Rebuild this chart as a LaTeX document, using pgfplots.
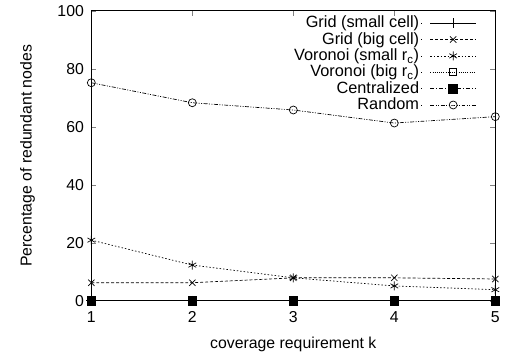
\documentclass[border=0pt]{standalone}
\usepackage{fontspec}
\setmainfont{Liberation Sans}
\usepackage{pgfplots}
\pgfplotsset{compat=1.18}
\begin{document}
\fontsize{16}{18}\selectfont
\begin{tikzpicture}
\begin{axis}[
  at={(0,0)}, anchor=south west,
  scale only axis, width=407bp, height=292bp,
  xmin=1, xmax=5, ymin=0, ymax=100,
  xtick={1,2,3,4,5}, ytick={0,20,40,60,80,100},
  tick align=inside, major tick length=5bp,
  /pgf/number format/assume math mode=true,
  tick label style={font=\fontsize{16}{18}\selectfont},
  label style={font=\fontsize{16}{18}\selectfont},
  xticklabel style={yshift=-5bp},
  yticklabel style={xshift=-2bp},
  xlabel={coverage requirement k},
  ylabel={Percentage of redundant nodes},
  xlabel style={yshift=-4bp},
  ylabel style={yshift=12bp},
  axis line style={line width=0.9pt},
  every axis plot/.append style={line width=0.7pt, black},
  legend style={at={(0.956,0.993)}, anchor=north east, draw=none, fill=none,
    font=\fontsize{16.5}{15}\selectfont, row sep=-1.8bp, inner sep=1bp},
  legend cell align=right, legend plot pos=right,
  legend image code/.code={\path (0bp,0bp) -- (1bp,0bp); \draw[mark repeat=2,mark phase=2] plot coordinates {(9bp,0bp) (32bp,0bp) (55bp,0bp)};},
  clip=false,
]
\addplot[mark=+, mark size=5bp, solid] coordinates {(1,0)(2,0)(3,0)(4,0)(5,0)};
\addlegendentry{Grid (small cell)}
\addplot[mark=x, mark size=4.5bp, dash pattern=on 3pt off 2pt, mark options={solid}] coordinates {(1,6.2)(2,6.2)(3,7.9)(4,7.9)(5,7.5)};
\addlegendentry{Grid (big cell)}
\addplot[mark=asterisk, mark size=4.5bp, dash pattern=on 1.5pt off 2pt, mark options={solid}] coordinates {(1,20.9)(2,12.3)(3,7.9)(4,5.1)(5,3.8)};
\addlegendentry{Voronoi (small r\textsubscript{c})}
\addplot[mark=square, mark size=3.5bp, dash pattern=on 1pt off 1.2pt, mark options={solid}] coordinates {(1,0)(2,0)(3,0)(4,0)(5,0)};
\addlegendentry{Voronoi (big r\textsubscript{c})}
\addplot[mark=square*, mark size=4.5bp, dash pattern=on 4pt off 2pt on 1pt off 2pt, mark options={solid}] coordinates {(1,0)(2,0)(3,0)(4,0)(5,0)};
\addlegendentry{Centralized}
\addplot[mark=o, mark size=4bp, dash pattern=on 4pt off 1.5pt on 1pt off 1.5pt on 1pt off 1.5pt, mark options={solid}] coordinates {(1,75.2)(2,68.3)(3,65.8)(4,61.3)(5,63.5)};
\addlegendentry{Random}
\end{axis}
\path (-92bp,-60bp) rectangle (413bp,300bp);
\end{tikzpicture}
\end{document}
